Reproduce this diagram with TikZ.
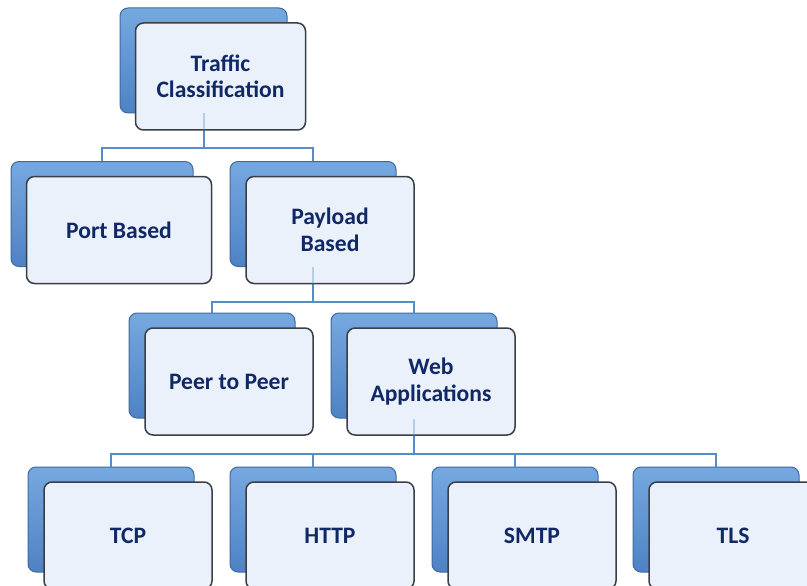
\documentclass[tikz,border=0pt]{standalone}
\usepackage{fontspec}
\setmainfont{Carlito}[BoldFont={Carlito Bold}]
\usepackage{tikz}
\usetikzlibrary{positioning,calc}

\definecolor{boxblue}{RGB}{78,130,196}
\definecolor{boxblueL}{RGB}{118,168,224}
\definecolor{boxedge}{RGB}{62,105,165}
\definecolor{frontfill}{RGB}{234,241,250}
\definecolor{frontedge}{RGB}{58,62,70}
\definecolor{txtnavy}{RGB}{16,40,102}
\definecolor{linkblue}{RGB}{86,140,200}

\begin{document}
\begin{tikzpicture}[
  x=1pt,y=-1pt,
  font=\fontsize{23.6}{26.5}\selectfont\bfseries,
  back/.style={draw=boxedge,line width=1pt,rounded corners=8pt,
               top color=boxblueL,bottom color=boxblue,
               minimum width=166pt,minimum height=105pt,inner sep=0pt},
  front/.style={draw=frontedge,line width=1.5pt,rounded corners=8pt,
                fill=frontfill,text=txtnavy,align=center,
                minimum width=168pt,minimum height=107pt,inner sep=0pt},
  conn/.style={draw=linkblue,line width=2pt}
]
\useasboundingbox (0,0) rectangle (807,586);

% back boxes
\foreach \n/\x/\y/\w in {top/203.5/60.5/167, port/102/214/182, pay/313/214/166,
    peer/212/365.5/166, web/414/365.5/166,
    tcp/111/519.5/166, http/313/519.5/166, smtp/515/519.5/166, tls/716/519.5/166}
  \node[back,minimum width=\w pt] (\n b) at (\x,\y) {};

% links between levels
\foreach \p/\c in {top/port, top/pay, pay/peer, pay/web,
    web/tcp, web/http, web/smtp, web/tls}
  \draw[conn] (\p b.south) -- ++(0,35) -| (\c b.north);

% front boxes with labels
\foreach \n/\w/\t in {top/170/{Traffic\\Classification}, port/185/{Port Based},
    pay/168/{Payload\\Based}, peer/168/{Peer to Peer}, web/168/{Web\\Applications},
    tcp/168/TCP, http/168/HTTP, smtp/168/SMTP, tls/168/TLS}
  \node[front,minimum width=\w pt] (\n) at ([shift={(17,16)}]\n b.center) {\t};

% link stubs showing through the front boxes
\foreach \n in {top,pay,web}
  \draw[conn,opacity=0.35] (\n b.south) -- (\n b.south |- \n.south);
\end{tikzpicture}
\end{document}
